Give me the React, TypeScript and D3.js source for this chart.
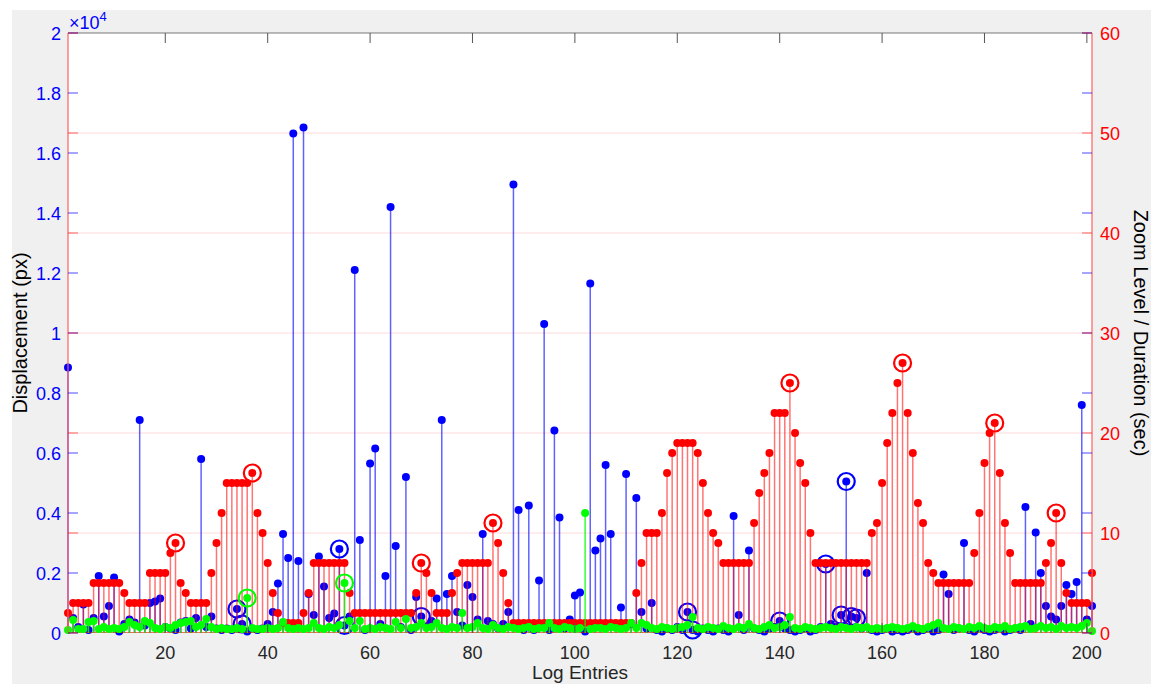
import React from "react";
import * as d3 from "d3";

// ---- data ----
const displacement: number[] = [
  8850, 500, 200, 950, 100, 500, 1900, 550, 900, 1850,
  50, 300, 450, 350, 7100, 250, 1000, 1050, 1150, 200,
  150, 100, 350, 400, 150, 500, 5800, 200, 550, 150,
  100, 150, 100, 800, 300, 50, 150, 100, 150, 300,
  700, 1650, 3300, 2500, 16650, 2400, 16850, 1300, 600, 2550,
  1550, 500, 650, 2800, 250, 550, 12100, 3100, 100, 5650,
  6150, 300, 1900, 14200, 2900, 200, 5200, 100, 1200, 550,
  200, 400, 1150, 7100, 1300, 1900, 700, 250, 1600, 1200,
  450, 3300, 400, 300, 150, 300, 700, 14950, 4100, 100,
  4250, 100, 1750, 10300, 100, 6750, 3850, 150, 450, 1250,
  1350, 50, 11650, 2750, 3150, 5600, 3300, 200, 850, 5300,
  300, 4500, 700, 150, 1000, 100, 50, 150, 100, 200,
  100, 700, 100, 50, 150, 100, 50, 150, 100, 50,
  3900, 600, 100, 2750, 150, 100, 50, 150, 200, 400,
  150, 100, 50, 100, 150, 50, 100, 200, 2300, 300,
  200, 600, 5050, 550, 500, 150, 2000, 100, 50, 100,
  150, 50, 100, 50, 100, 150, 50, 100, 150, 50,
  100, 1950, 1300, 100, 150, 3000, 100, 50, 150, 100,
  50, 100, 150, 50, 100, 150, 100, 4200, 300, 3350,
  2000, 900, 550, 450, 900, 1600, 1300, 1700, 7600, 450,
  900,
];

const zoomLevel: number[] = [
  2, 3, 3, 3, 3, 5, 5, 5, 5, 5,
  5, 4, 3, 3, 3, 3, 6, 6, 6, 6,
  8, 9, 5, 4, 3, 3, 3, 3, 6, 9,
  12, 15, 15, 15, 15, 15, 16, 12, 10, 7,
  4, 2, 1, 1, 1, 1, 2, 4, 7, 7,
  7, 7, 7, 7, 7, 4, 2, 2, 2, 2,
  2, 2, 2, 2, 2, 2, 2, 2, 4, 7,
  6, 4, 2, 2, 2, 4, 6, 7, 7, 7,
  7, 7, 7, 11, 9, 6, 3, 1, 1, 1,
  1, 1, 1, 1, 1, 1, 1, 1, 1, 1,
  1, 1, 1, 1, 1, 1, 1, 1, 1, 1,
  1, 4, 7, 10, 10, 10, 12, 16, 18, 19,
  19, 19, 19, 18, 15, 12, 10, 9, 7, 7,
  7, 7, 7, 7, 11, 14, 16, 18, 22, 22,
  22, 25, 20, 17, 15, 10, 7, 7, 7, 7,
  7, 7, 7, 7, 7, 7, 7, 10, 11, 15,
  19, 22, 25, 27, 22, 18, 13, 11, 7, 6,
  5, 5, 5, 5, 5, 5, 5, 8, 12, 17,
  20, 21, 16, 11, 8, 5, 5, 5, 5, 5,
  5, 7, 9, 12, 7, 4, 3, 3, 3, 3,
  6,
];

const duration: number[] = [
  0.3, 1.3, 0.4, 0.4, 1.1, 1.2, 0.4, 0.6, 0.4, 0.5,
  0.4, 0.6, 1.1, 0.8, 0.6, 1.2, 1.0, 0.5, 0.4, 0.6,
  0.5, 0.8, 1.0, 1.1, 1.2, 0.6, 0.8, 1.4, 0.6, 0.4,
  0.5, 0.4, 0.4, 0.5, 0.4, 3.5, 0.5, 0.4, 0.4, 0.5,
  0.4, 0.5, 1.1, 0.5, 0.4, 0.5, 0.4, 0.5, 1.0, 0.5,
  0.4, 0.6, 0.5, 0.8, 5.0, 1.2, 0.5, 1.2, 0.4, 0.5,
  0.4, 0.6, 0.5, 0.4, 1.1, 0.5, 1.4, 0.5, 0.6, 1.0,
  0.5, 0.6, 1.0, 0.5, 0.4, 0.6, 0.5, 2.0, 0.5, 0.6,
  1.0, 0.5, 0.4, 0.8, 0.5, 0.4, 0.6, 0.5, 0.4, 0.5,
  0.6, 0.4, 0.5, 0.5, 1.0, 0.5, 0.4, 0.6, 0.5, 0.4,
  0.5, 12.0, 0.4, 0.5, 0.5, 0.4, 0.6, 0.5, 0.4, 0.5,
  1.0, 0.5, 1.0, 0.8, 0.5, 0.4, 0.6, 0.5, 0.4, 0.5,
  0.6, 0.8, 1.6, 0.5, 0.4, 0.6, 0.5, 0.4, 0.7, 0.5,
  0.4, 0.6, 0.5, 0.9, 0.5, 0.4, 0.6, 0.8, 0.5, 0.6,
  0.8, 1.6, 0.5, 0.4, 0.6, 0.5, 0.4, 0.5, 0.6, 0.5,
  0.4, 0.6, 0.5, 0.4, 0.6, 0.5, 0.6, 0.4, 0.5, 0.4,
  0.5, 0.6, 0.5, 0.4, 0.5, 0.7, 0.5, 0.4, 0.6, 0.8,
  1.0, 0.5, 0.4, 0.6, 0.5, 0.4, 0.6, 0.5, 0.7, 0.5,
  0.4, 0.6, 0.5, 0.7, 0.4, 0.5, 0.6, 0.7, 0.4, 0.5,
  0.7, 0.5, 0.6, 0.4, 0.7, 0.5, 0.6, 0.5, 0.7, 1.0,
  0.2,
];

// highlighted (circled) log entries, 1-based
const circledDisplacement: number[] = [34, 35, 54, 55, 70, 122, 123, 140, 149, 152, 153, 154, 155];
const circledZoom: number[] = [22, 37, 70, 84, 142, 164, 182, 194];
const circledDuration: number[] = [36, 55];

const xTickValues: number[] = [20, 40, 60, 80, 100, 120, 140, 160, 180, 200];
const leftTickValues: number[] = [0, 2000, 4000, 6000, 8000, 10000, 12000, 14000, 16000, 18000, 20000];
const leftTickLabels: string[] = ["0", "0.2", "0.4", "0.6", "0.8", "1", "1.2", "1.4", "1.6", "1.8", "2"];
const rightTickValues: number[] = [0, 10, 20, 30, 40, 50, 60];

const W = 1151;
const H = 684;
const L = 68, R = 1092, T = 33, B = 633;
const FONT = "'Liberation Sans', Arial, Helvetica, sans-serif";
const TICK_FS = 18;
const LABEL_FS = 20;

const BLUE = "#0000ff";
const RED = "#ff0000";
const GREEN = "#00ff00";

export default function App() {
  const n = displacement.length;
  const x = d3.scaleLinear().domain([1, n]).range([L, R]);
  const yL = d3.scaleLinear().domain([0, 20000]).range([B, T]);
  const yR = d3.scaleLinear().domain([0, 60]).range([B, T]);

  const stems = (vals: number[], y: d3.ScaleLinear<number, number>, color: string, opacity: number) =>
    vals.map((v, i) => (
      <line key={"s" + i} x1={x(i + 1)} x2={x(i + 1)} y1={y(0)} y2={y(v)} stroke={color} strokeOpacity={opacity} strokeWidth={1.5} />
    ));
  const dots = (vals: number[], y: d3.ScaleLinear<number, number>, color: string) =>
    vals.map((v, i) => <circle key={"d" + i} cx={x(i + 1)} cy={y(v)} r={4} fill={color} />);
  const rings = (idx: number[], vals: number[], y: d3.ScaleLinear<number, number>, color: string) =>
    idx.map((k) => (
      <circle key={"r" + k} cx={x(k)} cy={y(vals[k - 1])} r={8.5} fill="none" stroke={color} strokeWidth={2.2} />
    ));

  return (
    <div style={{ position: "absolute", left: 0, top: 0 }}>
      <svg width={W} height={H} style={{ display: "block" }}>
        <rect x={0} y={0} width={W} height={H} fill="#ffffff" />
        <rect x={12} y={10} width={W - 12} height={H - 10} fill="#f0f0f0" />
        <rect x={L} y={T} width={R - L} height={B - T} fill="#ffffff" />

        {/* grid from right axis */}
        {rightTickValues.slice(1, -1).map((v) => (
          <line key={"g" + v} x1={L} x2={R} y1={yR(v)} y2={yR(v)} stroke="#ff0000" strokeOpacity={0.15} strokeWidth={1} />
        ))}

        {/* left series: displacement */}
        <g>
          {stems(displacement, yL, BLUE, 0.62)}
          {dots(displacement, yL, BLUE)}
          {rings(circledDisplacement, displacement, yL, BLUE)}
        </g>
        {/* right series: zoom level & duration */}
        <g>
          {stems(zoomLevel, yR, RED, 0.55)}
          <line x1={L} x2={R} y1={B - 0.5} y2={B - 0.5} stroke={RED} strokeOpacity={0.6} strokeWidth={1} />
          {dots(zoomLevel, yR, RED)}
          {rings(circledZoom, zoomLevel, yR, RED)}
        </g>
        <g>
          {stems(duration, yR, GREEN, 0.8)}
          {dots(duration, yR, GREEN)}
          {rings(circledDuration, duration, yR, GREEN)}
        </g>

        {/* box */}
        <line x1={L} x2={R} y1={T} y2={T} stroke="#262626" strokeOpacity={0.6} strokeWidth={1} />
        <line x1={L} x2={L} y1={T} y2={B} stroke="#ff6060" strokeWidth={1.2} />
        <line x1={R} x2={R} y1={T} y2={B} stroke="#ff6060" strokeWidth={1.2} />

        {/* x ticks */}
        {xTickValues.map((v) => (
          <g key={"xt" + v}>
            <line x1={x(v)} x2={x(v)} y1={T} y2={T + 10} stroke="#555" strokeWidth={1} />
            <line x1={x(v)} x2={x(v)} y1={B} y2={B - 10} stroke="#555" strokeWidth={1} />
            <text x={x(v)} y={B + 26} textAnchor="middle" fontFamily={FONT} fontSize={TICK_FS} fill="#262626">
              {v}
            </text>
          </g>
        ))}

        {/* left ticks */}
        {leftTickValues.map((v, i) => (
          <g key={"lt" + v}>
            <line x1={L} x2={L + 10} y1={yL(v)} y2={yL(v)} stroke={BLUE} strokeOpacity={0.7} strokeWidth={1} />
            <line x1={R} x2={R - 10} y1={yL(v)} y2={yL(v)} stroke={BLUE} strokeOpacity={0.7} strokeWidth={1} />
            <text x={L - 7} y={yL(v) + 6.5} textAnchor="end" fontFamily={FONT} fontSize={TICK_FS} fill={BLUE}>
              {leftTickLabels[i]}
            </text>
          </g>
        ))}

        {/* right ticks */}
        {rightTickValues.map((v) => (
          <g key={"rt" + v}>
            <line x1={R} x2={R - 10} y1={yR(v)} y2={yR(v)} stroke={RED} strokeOpacity={0.6} strokeWidth={1} />
            <line x1={L} x2={L + 10} y1={yR(v)} y2={yR(v)} stroke={RED} strokeOpacity={0.6} strokeWidth={1} />
            <text x={R + 8} y={yR(v) + 6.5} textAnchor="start" fontFamily={FONT} fontSize={TICK_FS} fill={RED}>
              {v}
            </text>
          </g>
        ))}

        {/* exponent */}
        <text x={69} y={29} fontFamily={FONT} fontSize={TICK_FS} fill={BLUE}>
          ×10
          <tspan dy={-8} fontSize={13}>4</tspan>
        </text>

        {/* axis labels */}
        <text x={(L + R) / 2} y={679} textAnchor="middle" fontFamily={FONT} fontSize={19} fill="#262626">
          Log Entries
        </text>
        <text transform={`translate(27,${(T + B) / 2}) rotate(-90)`} textAnchor="middle" fontFamily={FONT} fontSize={LABEL_FS} fill="#000">
          Displacement (px)
        </text>
        <text transform={`translate(1134,${(T + B) / 2}) rotate(90)`} textAnchor="middle" fontFamily={FONT} fontSize={LABEL_FS} fill="#000">
          Zoom Level / Duration (sec)
        </text>
      </svg>
    </div>
  );
}
